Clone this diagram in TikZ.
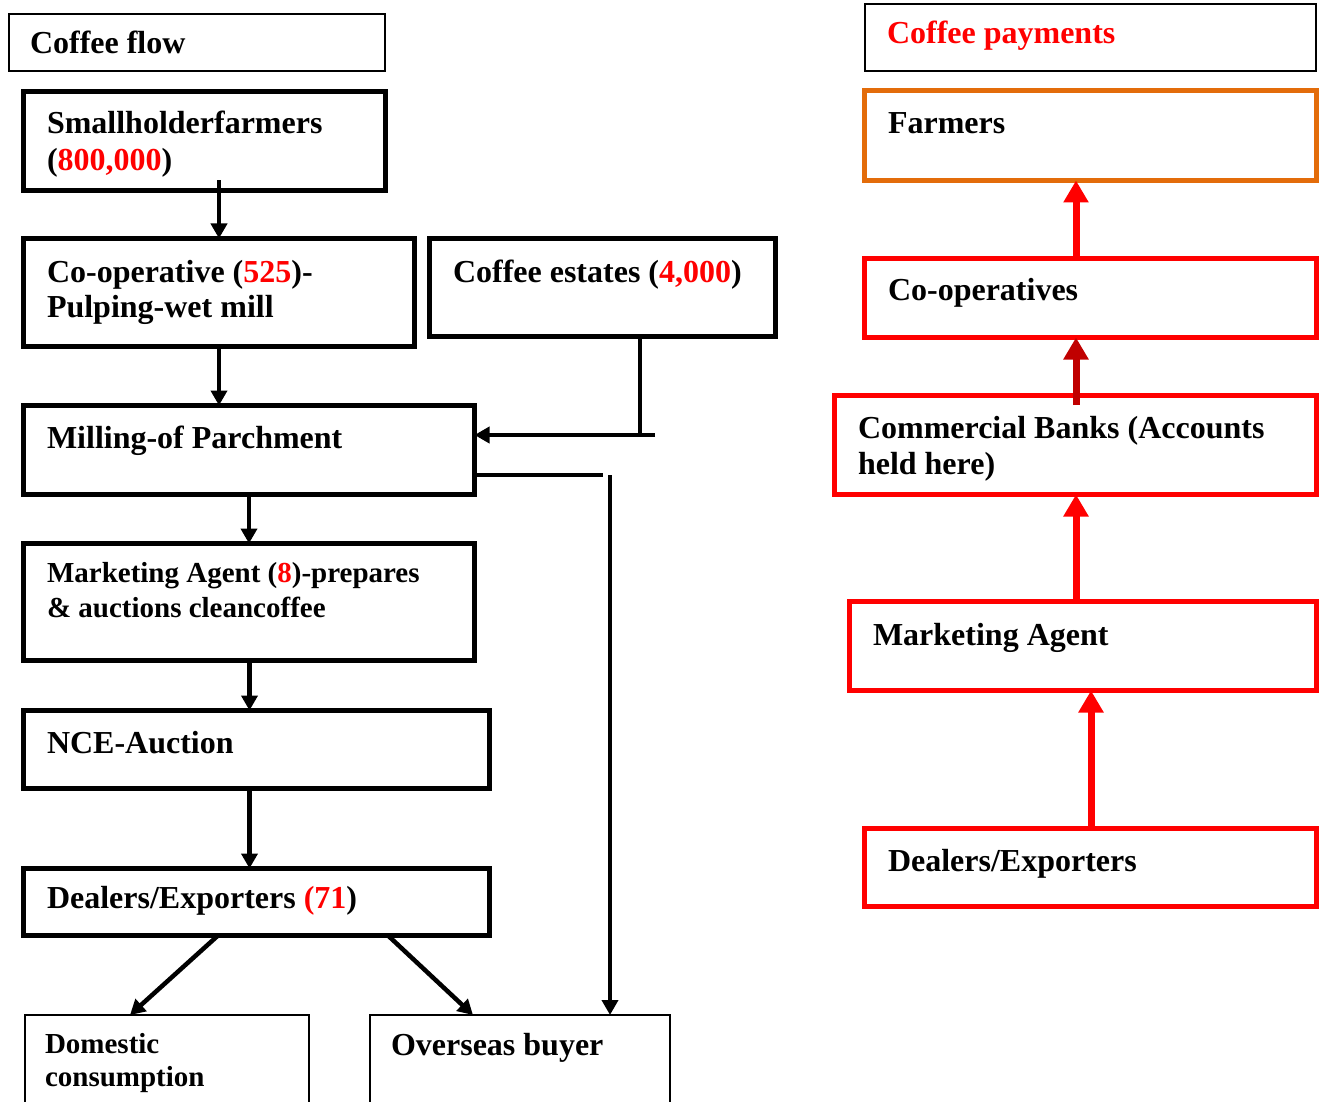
\documentclass[tikz,border=0pt]{standalone}
\usepackage{fontspec}
\setmainfont{Liberation Serif}
\usetikzlibrary{arrows.meta,calc}
\definecolor{cred}{HTML}{FF0000}
\definecolor{corange}{HTML}{E36C0A}
\definecolor{cdark}{HTML}{C00000}
\begin{document}
\begin{tikzpicture}[x=1pt,y=-1pt,
  boxbase/.style={draw, rectangle, anchor=north west, inner sep=0pt, outer sep=0pt},
  thinbox/.style={boxbase, line width=2pt},
  thickbox/.style={boxbase, line width=5pt},
  redbox/.style={boxbase, line width=5pt, draw=cred},
  orbox/.style={boxbase, line width=5pt, draw=corange},
  txt/.style={anchor=base west, inner sep=0pt, outer sep=0pt, font=\bfseries\fontsize{32}{37}\selectfont},
  stxt/.style={anchor=base west, inner sep=0pt, outer sep=0pt, font=\bfseries\fontsize{29}{34}\selectfont},
  conn/.style={line width=4.5pt},
  arr/.style={conn, -{Triangle[width=16pt,length=15pt]}},
  rarr/.style={line width=7pt, draw=cred, -{Triangle[width=24pt,length=22pt]}},
  darr/.style={line width=7pt, draw=cdark, -{Triangle[width=24pt,length=22pt]}, color=cdark}
]
\useasboundingbox (0,0) rectangle (1320,1102);

% ---------- left: coffee flow ----------
\node[thinbox, minimum width=376pt, minimum height=57pt] (cflow) at (9,14) {};
\node[txt] (tcflow) at (30,54) {Coffee flow};

\node[thickbox, minimum width=362pt, minimum height=99pt] (small) at (23.5,91.5) {};
\node[txt] (tsmall1) at (47,134) {Smallholderfarmers};
\node[txt] (tsmall2) at (47,171) {(\textcolor{cred}{800,000})};

\node[thickbox, minimum width=391pt, minimum height=108pt] (coop) at (23.5,238.5) {};
\node[txt] (tcoop1) at (47,283) {Co-operative (\textcolor{cred}{525})-};
\node[txt] (tcoop2) at (47,317) {Pulping-wet mill};

\node[thickbox, minimum width=346pt, minimum height=98pt] (estates) at (429.5,238.5) {};
\node[txt] (testates) at (453,282) {Coffee estates (\textcolor{cred}{4,000})};

\node[thickbox, minimum width=451pt, minimum height=89pt] (mill) at (23.5,405.5) {};
\node[txt] (tmill) at (47,448) {Milling-of Parchment};

\node[thickbox, minimum width=451pt, minimum height=117pt] (mkt) at (23.5,543.5) {};
\node[stxt] (tmkt1) at (47,582) {Marketing Agent (\textcolor{cred}{8})-prepares};
\node[stxt] (tmkt2) at (47,617) {\& auctions cleancoffee};

\node[thickbox, minimum width=466pt, minimum height=78pt] (nce) at (23.5,710.5) {};
\node[txt] (tnce) at (47,753) {NCE-Auction};

\node[thickbox, minimum width=466pt, minimum height=67pt] (deal) at (23.5,868.5) {};
\node[txt] (tdeal) at (47,908) {Dealers/Exporters \textcolor{cred}{(71})};

\node[thinbox, minimum width=284pt, minimum height=100pt] (dom) at (25,1015) {};
\node[stxt] (tdom1) at (45,1053) {Domestic};
\node[stxt] (tdom2) at (45,1086) {consumption};

\node[thinbox, minimum width=300pt, minimum height=100pt] (over) at (370,1015) {};
\node[txt] (tover) at (391,1055) {Overseas buyer};

% connectors left
\draw[arr] ([shift={(195.5,-10)}]small.south west) -- ([xshift=195.5pt]coop.north west);
\draw[arr] ([xshift=195.5pt]coop.south west) -- ([xshift=195.5pt]mill.north west);
\coordinate (ej) at (655,435);
\draw[conn] ([xshift=210.5pt]estates.south west) -- ([xshift=210.5pt]estates.south west |- ej);
\draw[arr] (ej) -- (ej -| mill.east);
\coordinate (m1) at (603,475);
\coordinate (m2) at (610,475);
\draw[conn] (mill.east |- m1) -- (m1);
\draw[arr] (m2) -- (m2 |- over.north);
\draw[arr] ([xshift=225.5pt]mill.south west) -- ([xshift=225.5pt]mkt.north west);
\draw[arr] ([xshift=226pt]mkt.south west) -- ([xshift=226pt]nce.north west);
\draw[arr] ([xshift=226pt]nce.south west) -- ([xshift=226pt]deal.north west);
\draw[arr] ([xshift=194.5pt]deal.south west) -- ([xshift=105pt]dom.north west);
\draw[arr] ([xshift=364.5pt]deal.south west) -- ([xshift=103pt]over.north west);

% ---------- right: coffee payments ----------
\node[thinbox, minimum width=451pt, minimum height=67pt] (pay) at (865,4) {};
\node[txt, text=cred] (tpay) at (887,44) {Coffee payments};

\node[orbox, minimum width=452pt, minimum height=90pt] (farm) at (864.5,90.5) {};
\node[txt] (tfarm) at (888,134) {Farmers};

\node[redbox, minimum width=452pt, minimum height=79pt] (coops) at (864.5,258.5) {};
\node[txt] (tcoops) at (888,300) {Co-operatives};

\node[redbox, minimum width=482pt, minimum height=99pt] (bank) at (834.5,395.5) {};
\node[txt] (tbank1) at (858,438) {Commercial Banks (Accounts};
\node[txt] (tbank2) at (858,474) {held here)};

\node[redbox, minimum width=467pt, minimum height=89pt] (rmkt) at (849.5,601.5) {};
\node[txt] (trmkt) at (873,645) {Marketing Agent};

\node[redbox, minimum width=452pt, minimum height=78pt] (rdeal) at (864.5,828.5) {};
\node[txt] (trdeal) at (888,871) {Dealers/Exporters};

% connectors right
\draw[rarr] ([xshift=211.5pt]coops.north west) -- ([xshift=211.5pt]farm.south west);
\draw[darr] ([shift={(241.5,9.5)}]bank.north west) -- ([xshift=211.5pt]coops.south west);
\draw[rarr] ([xshift=226.5pt]rmkt.north west) -- ([xshift=241.5pt]bank.south west);
\draw[rarr] ([xshift=226.5pt]rdeal.north west) -- ([xshift=241.5pt]rmkt.south west);
\end{tikzpicture}
\end{document}
